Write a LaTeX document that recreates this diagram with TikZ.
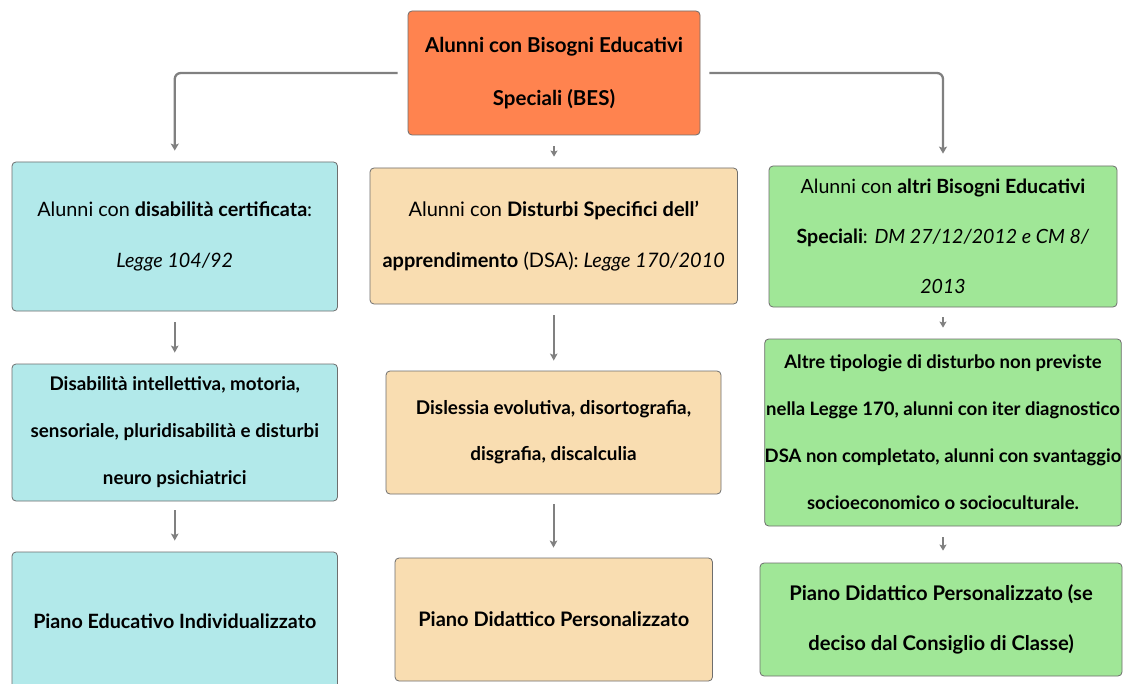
\documentclass[tikz,border=0pt]{standalone}
\usepackage{fontspec}
\setmainfont{Lato}
\usetikzlibrary{arrows.meta}
\definecolor{orangebox}{HTML}{FF834F}
\definecolor{cyanbox}{HTML}{B2E9EA}
\definecolor{beigebox}{HTML}{F9DDB1}
\definecolor{greenbox}{HTML}{A0E797}
\definecolor{boxline}{HTML}{6E6E6E}
\definecolor{arrowgray}{HTML}{808080}
\begin{document}
\begin{tikzpicture}[x=1pt,y=-1pt,
  box/.style={draw=boxline, line width=0.8pt, rounded corners=4pt, inner sep=0pt, align=center, text=black},
  conn/.style={draw=arrowgray, line width=2.3pt, rounded corners=6pt, -{Stealth[length=7pt,width=8pt,inset=1.5pt]}},
  vconn/.style={draw=arrowgray, line width=2pt, -{Stealth[length=7pt,width=7.5pt,inset=1.5pt]}},
  small/.style={draw=arrowgray, line width=1.8pt, -{Stealth[length=6pt,width=7pt,inset=1.2pt]}}]
\useasboundingbox (0,0) rectangle (1123,684);
\fill[white] (0,0) rectangle (1123,684);
\begin{scope}
\clip (0,0) rectangle (1123,684);
\node[box, fill=orangebox, minimum width=292pt, minimum height=124pt, font=\fontsize{20.5}{53}\selectfont\bfseries] (top) at (554,73) {Alunni con Bisogni Educativi\\Speciali (BES)};

\node[box, fill=cyanbox, minimum width=325.5pt, minimum height=149pt, font=\fontsize{19.8}{51}\selectfont] (L1) at (174.75,236.5) {Alunni con \textbf{disabilità certificata}:\\\textit{Legge 104/92}};
\node[box, fill=cyanbox, minimum width=325.5pt, minimum height=137pt, font=\fontsize{18.8}{47}\selectfont\bfseries] (L2) at (174.75,432.5) {Disabilità intellettiva, motoria,\\sensoriale, pluridisabilità e disturbi\\neuro psichiatrici};
\node[box, fill=cyanbox, minimum width=325.5pt, minimum height=138pt, font=\fontsize{19.7}{47}\selectfont\bfseries] (L3) at (174.75,621) {Piano Educativo Individualizzato};

\node[box, fill=beigebox, minimum width=367.5pt, minimum height=136pt, font=\fontsize{20}{51}\selectfont] (M1) at (553.75,236) {Alunni con \textbf{Disturbi Specifici dell’}\\\textbf{apprendimento} (DSA): \textit{Legge 170/2010}};
\node[box, fill=beigebox, minimum width=335pt, minimum height=123pt, font=\fontsize{18.9}{46}\selectfont\bfseries] (M2) at (553.5,432.5) {Dislessia evolutiva, disortografia,\\disgrafia, discalculia};
\node[box, fill=beigebox, minimum width=317.5pt, minimum height=123pt, font=\fontsize{20}{47}\selectfont\bfseries] (M3) at (553.75,619.5) {Piano Didattico Personalizzato};

\node[box, fill=greenbox, minimum width=348pt, minimum height=141pt, font=\fontsize{19.6}{50}\selectfont] (R1) at (943,236.5) {Alunni con \textbf{altri Bisogni Educativi}\\\textbf{Speciali}: \textit{DM 27/12/2012 e CM 8/}\\\textit{2013}};
\node[box, fill=greenbox, minimum width=356pt, minimum height=187pt, font=\fontsize{18.5}{47}\selectfont\bfseries] (R2) at (943,432.5) {Altre tipologie di disturbo non previste\\nella Legge 170, alunni con iter diagnostico\\DSA non completato, alunni con svantaggio\\socioeconomico o socioculturale.};
\node[box, fill=greenbox, minimum width=362pt, minimum height=113pt, font=\fontsize{20.2}{50}\selectfont\bfseries] (R3) at (941,619.5) {Piano Didattico Personalizzato (se\\deciso dal Consiglio di Classe)};
\end{scope}

\draw[conn] ([xshift=-10pt]top.west) -| ([yshift=11pt]L1.north);
\draw[conn] ([xshift=9pt]top.east) -| ([yshift=12pt]R1.north);
\draw[small, shorten <=11pt, shorten >=11pt] (top.south) -- (top.south |- M1.north);

\draw[vconn, shorten <=11pt, shorten >=11pt] (L1.south) -- (L2.north);
\draw[vconn, shorten <=9pt, shorten >=11pt] (L2.south) -- (L3.north);
\draw[vconn, shorten <=11pt, shorten >=10pt] (M1.south) -- (M1.south |- M2.north);
\draw[vconn, shorten <=10pt, shorten >=10pt] (M2.south) -- (M2.south |- M3.north);
\draw[small, shorten <=10pt, shorten >=11pt] (R1.south) -- (R2.north);
\draw[small, shorten <=11pt, shorten >=12pt] (R2.south) -- (R2.south |- R3.north);
\end{tikzpicture}
\end{document}
